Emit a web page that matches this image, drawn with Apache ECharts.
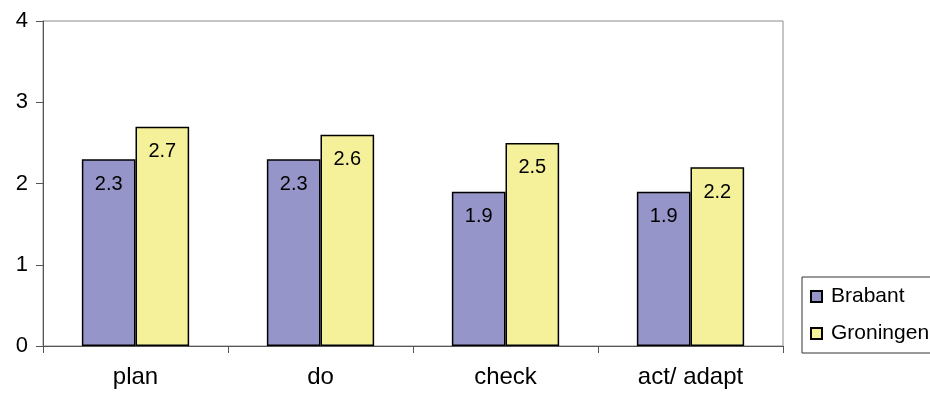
<!DOCTYPE html>
<html><head><meta charset="utf-8">
<script src="https://cdn.jsdelivr.net/npm/echarts@6/dist/echarts.min.js"></script>
<style>html,body{margin:0;padding:0;background:#fff}#c{width:930px;height:394px}</style>
</head><body><div id="c"></div>
<script>
const categories = ['plan', 'do', 'check', 'act/ adapt'];
const brabant = [2.3, 2.3, 1.9, 1.9];
const groningen = [2.7, 2.6, 2.5, 2.2];
const yTicks = [0, 1, 2, 3, 4];

const font = 'Liberation Sans, Arial, sans-serif';
const chart = echarts.init(document.getElementById('c'));
const labelCfg = {show: true, position: 'insideTop', distance: 15, color: '#000', fontSize: 20, fontFamily: font,
  formatter: p => p.value.toFixed(1)};
chart.setOption({
  animation: false,
  grid: {left: 43, right: 147, top: 21, bottom: 48, show: true, borderColor: '#8c8c8c', borderWidth: 1},
  xAxis: {type: 'category', data: categories,
    axisLine: {lineStyle: {color: '#555', width: 1}},
    axisTick: {show: true, length: 7, lineStyle: {color: '#555'}},
    axisLabel: {color: '#000', fontSize: 24, fontFamily: font, margin: 19}},
  yAxis: {type: 'value', min: yTicks[0], max: yTicks[yTicks.length - 1], interval: 1,
    axisLine: {show: true, lineStyle: {color: '#555', width: 1}},
    axisTick: {show: true, length: 7, lineStyle: {color: '#555'}},
    splitLine: {show: false},
    axisLabel: {color: '#000', fontSize: 22, fontFamily: font, margin: 15}},
  legend: {orient: 'vertical', left: 802, top: 277, itemWidth: 11, itemHeight: 11, itemGap: 16,
    padding: [9, 40, 9, 8], borderColor: '#333', borderWidth: 1, icon: 'rect',
    textStyle: {fontSize: 21, fontFamily: font, color: '#000', padding: [0, 0, 0, 4]},
    data: ['Brabant', 'Groningen']},
  series: [
    {name: 'Brabant', type: 'bar', data: brabant, barCategoryGap: '42%', barGap: '0%',
      itemStyle: {color: '#9595c9', borderColor: '#000', borderWidth: 1.5}, label: labelCfg},
    {name: 'Groningen', type: 'bar', data: groningen,
      itemStyle: {color: '#f5f09a', borderColor: '#000', borderWidth: 1.5}, label: labelCfg}
  ]
});
</script></body></html>
